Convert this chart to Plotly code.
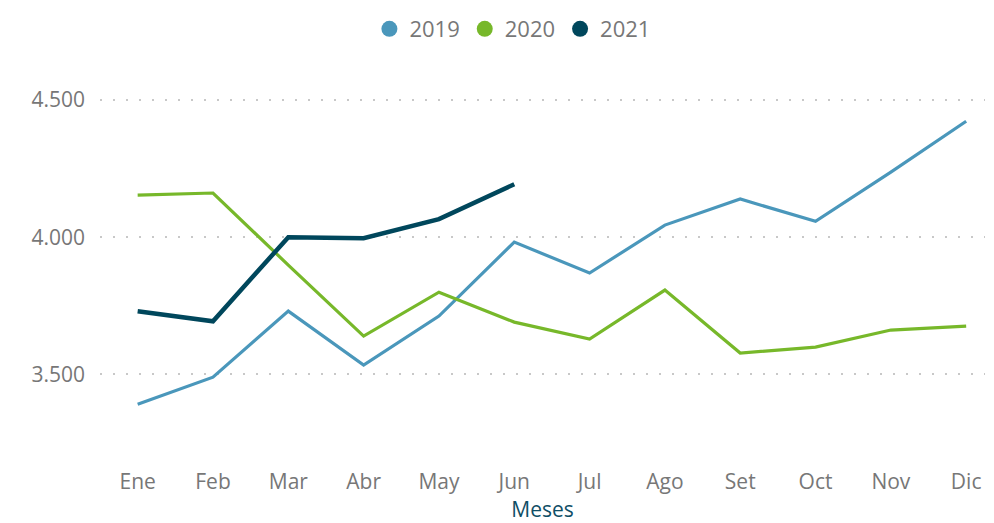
import plotly.graph_objects as go

months = ["Ene", "Feb", "Mar", "Abr", "May", "Jun", "Jul", "Ago", "Set", "Oct", "Nov", "Dic"]
v2019 = [3390, 3489, 3730, 3533, 3712, 3982, 3869, 4044, 4139, 4058, 4237, 4423]
v2020 = [4153, 4161, 3898, 3639, 3799, 3690, 3628, 3807, 3577, 3599, 3661, 3675]
v2021 = [3730, 3693, 4000, 3996, 4066, 4193]
yticks = [3500, 4000, 4500]

series = [
    ("2019", v2019, "#4a97bb", 3.2),
    ("2020", v2020, "#77b82a", 3.2),
    ("2021", v2021, "#00475c", 4.5),
]

fig = go.Figure()
for name, vals, color, w in series:
    fig.add_trace(go.Scatter(
        x=months[:len(vals)], y=vals, mode="lines", name=name,
        line=dict(color=color, width=w), showlegend=False,
    ))
for name, vals, color, w in series:
    fig.add_trace(go.Scatter(
        x=[None], y=[None], mode="markers", name=name,
        marker=dict(color=color, size=16, symbol="circle"),
    ))

fig.update_layout(
    width=986, height=515,
    margin=dict(l=92, r=9, t=51, b=94),
    paper_bgcolor="white", plot_bgcolor="white",
    separators=",.",
    font=dict(family="Open Sans, sans-serif", color="#777777"),
    legend=dict(orientation="h", x=0.466, xanchor="center", y=1.0, yanchor="top",
                yref="container", font=dict(size=22, color="#777777"),
                itemwidth=30, tracegroupgap=0),
    xaxis=dict(
        categoryorder="array", categoryarray=months,
        range=[-0.5, 11.25], showgrid=False, showline=False, zeroline=False,
        tickfont=dict(size=21, color="#777777"), ticks="", ticklabelstandoff=38,
        title=dict(text="Meses", font=dict(size=21, color="#0f4e66"), standoff=5),
    ),
    yaxis=dict(
        range=[3300, 4650], tickvals=yticks, tickformat=",d",
        showgrid=True, gridcolor="#c8c8c8", gridwidth=1.5, griddash="2px,11px",
        zeroline=False, showline=False, ticks="",
        tickfont=dict(size=21, color="#777777"), ticklabelstandoff=14,
    ),
)

fig.write_html("out.html")
